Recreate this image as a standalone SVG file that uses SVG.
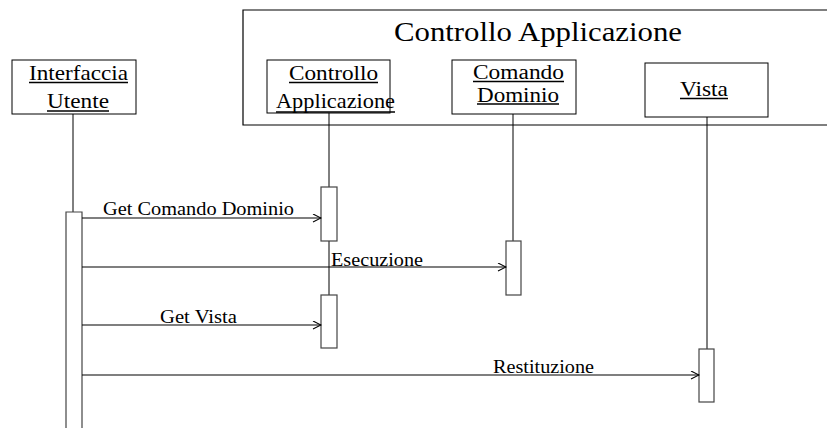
<svg xmlns="http://www.w3.org/2000/svg" width="827" height="428" viewBox="0 0 827 428">
  <style>
    .box { fill: #fff; stroke: #000; stroke-width: 1; }
    .act { fill: #fff; stroke: #444; stroke-width: 1.2; }
    .life { stroke: #000; stroke-width: 1; fill: none; }
    .ul { stroke: #000; stroke-width: 1.4; }
    .msg { stroke: #000; stroke-width: 1.2; fill: none; marker-end: url(#open); }
    text { font-family: "Liberation Serif", "Times New Roman", serif; fill: #000; }
    .lbl { font-size: 21px; }
    .mlbl { font-size: 18px; }
  </style>
  <defs>
    <marker id="open" markerWidth="10" markerHeight="10" refX="9" refY="4.5" orient="auto" markerUnits="userSpaceOnUse">
      <path d="M1,0.5 L9,4.5 L1,8.5" fill="none" stroke="#000" stroke-width="1.1"/>
    </marker>
  </defs>

  <!-- package frame -->
  <g id="frame">
    <path d="M830,10 H243 V125 H830" fill="none" stroke="#000" stroke-width="1.2"/>
    <text x="394" y="41" font-size="27" textLength="288" lengthAdjust="spacingAndGlyphs">Controllo Applicazione</text>
  </g>

  <!-- lifelines -->
  <g id="lifelines">
    <line class="life" x1="73" y1="114" x2="73" y2="212"/>
    <line class="life" x1="329" y1="113" x2="329" y2="295"/>
    <line class="life" x1="513" y1="114" x2="513" y2="241"/>
    <line class="life" x1="707" y1="117" x2="707" y2="349"/>
  </g>

  <!-- objects -->
  <g id="interfaccia-utente">
    <rect class="box" x="12" y="60" width="124" height="54"/>
    <text class="lbl" x="29" y="80" textLength="99" lengthAdjust="spacingAndGlyphs">Interfaccia</text>
    <line class="ul" x1="29" y1="82.5" x2="128" y2="82.5"/>
    <text class="lbl" x="47" y="108" textLength="62" lengthAdjust="spacingAndGlyphs">Utente</text>
    <line class="ul" x1="47" y1="111" x2="109" y2="111"/>
  </g>

  <g id="controllo-applicazione">
    <rect class="box" x="267" y="60" width="123" height="53"/>
    <text class="lbl" x="289" y="80" textLength="89" lengthAdjust="spacingAndGlyphs">Controllo</text>
    <line class="ul" x1="289" y1="82.5" x2="378" y2="82.5"/>
    <text class="lbl" x="276" y="108" textLength="119" lengthAdjust="spacingAndGlyphs">Applicazione</text>
    <line class="ul" x1="276" y1="112" x2="395" y2="112"/>
  </g>

  <g id="comando-dominio">
    <rect class="box" x="452" y="60" width="124" height="54"/>
    <text x="473" y="79" font-size="20" textLength="91" lengthAdjust="spacingAndGlyphs">Comando</text>
    <line class="ul" x1="473" y1="81.5" x2="564" y2="81.5"/>
    <text x="477" y="102" font-size="20" textLength="82" lengthAdjust="spacingAndGlyphs">Dominio</text>
    <line class="ul" x1="477" y1="104" x2="559" y2="104"/>
  </g>

  <g id="vista">
    <rect class="box" x="645" y="63" width="123" height="54"/>
    <text class="lbl" x="680" y="96" textLength="48" lengthAdjust="spacingAndGlyphs">Vista</text>
    <line class="ul" x1="680" y1="98.5" x2="728" y2="98.5"/>
  </g>

  <!-- activation bars -->
  <g id="activations">
    <path d="M66,428 V212 H82 V428" class="act"/>
    <rect class="act" x="321" y="187" width="16" height="54"/>
    <rect class="act" x="506" y="241" width="15" height="54"/>
    <rect class="act" x="321" y="295" width="16" height="53"/>
    <rect class="act" x="699" y="349" width="15" height="53"/>
  </g>

  <!-- messages -->
  <g id="connectors">
    <line class="msg" x1="82" y1="218" x2="321" y2="218"/>
    <text class="mlbl" x="103" y="215" textLength="191" lengthAdjust="spacingAndGlyphs">Get Comando Dominio</text>
    <line class="msg" x1="82" y1="267" x2="506" y2="267"/>
    <text class="mlbl" x="331" y="266" textLength="92" lengthAdjust="spacingAndGlyphs">Esecuzione</text>
    <line class="msg" x1="82" y1="325" x2="321" y2="325"/>
    <text class="mlbl" x="160" y="323" textLength="77" lengthAdjust="spacingAndGlyphs">Get Vista</text>
    <line class="msg" x1="82" y1="375" x2="699" y2="375"/>
    <text class="mlbl" x="493" y="373" textLength="101" lengthAdjust="spacingAndGlyphs">Restituzione</text>
  </g>
</svg>
